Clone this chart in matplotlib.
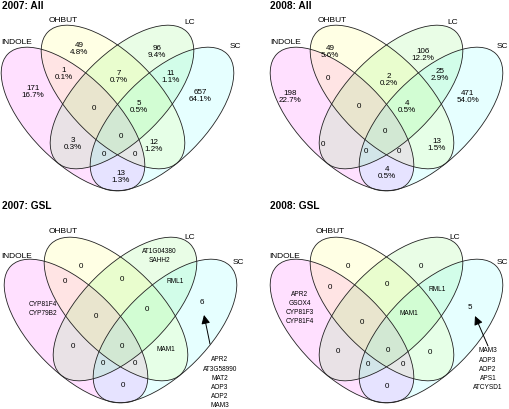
import matplotlib
matplotlib.use('Agg')
import matplotlib.pyplot as plt
from matplotlib.patches import Ellipse

plt.rcParams['font.family'] = ['Liberation Sans', 'DejaVu Sans']

# region order: I, O, L, S, IO, IL, IS, OL, OS, LS, IOL, IOS, ILS, OLS, IOLS
regions = ['I', 'O', 'L', 'S', 'IO', 'IL', 'IS', 'OL', 'OS', 'LS',
           'IOL', 'IOS', 'ILS', 'OLS', 'IOLS']
set_names = ['INDOLE', 'OHBUT', 'LC', 'SC']
titles = ['2007: All', '2008: All', '2007: GSL', '2008: GSL']

counts_2007_all = [171, 49, 96, 657, 1, 3, 13, 7, 12, 11, 0, 0, 0, 5, 0]
pct_2007_all = ['16.7%', '4.8%', '9.4%', '64.1%', '0.1%', '0.3%', '1.3%', '0.7%',
                '1.2%', '1.1%', '', '', '', '0.5%', '']
counts_2008_all = [198, 49, 106, 471, 0, 0, 4, 2, 13, 25, 0, 0, 0, 4, 0]
pct_2008_all = ['22.7%', '5.6%', '12.2%', '54.0%', '', '', '0.5%', '0.2%',
                '1.5%', '2.9%', '', '', '', '0.5%', '']

genes_2007_gsl = ['CYP81F4\nCYP79B2', '0', 'AT1G04380\nSAHH2', '6', '0', '0', '0', '0',
                  'MAM1', 'RML1', '0', '0', '0', '0', '0']
genes_2008_gsl = ['APR2\nGSOX4\nCYP81F3\nCYP81F4', '0', '0', '5', '0', '0', '0', '0',
                  '0', 'RML1', '0', '0', '0', 'MAM1', '0']
callout_2007 = ['APR2', 'AT3G58990', 'MAT2', 'AOP3', 'AOP2', 'MAM3']
callout_2008 = ['MAM3', 'AOP3', 'AOP2', 'APS1', 'ATCYSD1']

# ---- layout (pixels) ----
offsets = [(0, 0), (269, 0), (3, 212), (269, 212)]
ell_centers = [(73, 120), (113, 98), (122, 98), (162, 120)]
ell_angles = [45, 45, -45, -45]
ell_w, ell_h = 184, 86
fills = [(1, 0.2, 1, 0.15), (1, 1, 0.2, 0.13), (0.3, 0.95, 0.2, 0.12), (0.2, 1, 1, 0.12)]

title_pos = [(2, 6), (270, 6), (2, 206), (270, 206)]
name_pos = [
    [(17, 42), (63, 21), (190, 23), (235, 47)],
    [(286, 42), (332, 21), (453, 23), (502, 47)],
    [(17, 257), (63, 232), (190, 238), (238, 263)],
    [(285, 257), (330, 232), (455, 238), (502, 263)],
]
text_pos = [
    [(33, 92), (79, 49), (157, 52), (200, 96), (64, 74), (73, 144), (121, 177),
     (119, 77), (154, 146), (171, 77), (94, 108), (135, 155), (104, 155),
     (139, 107), (121, 137)],
    [(290, 97), (330, 52), (423, 55), (468, 97), (328, 78), (323, 145), (387, 173),
     (389, 80), (437, 145), (440, 75), (359, 107), (399, 152), (366, 152),
     (407, 107), (385, 132)],
    [(43, 309), (81, 267), (159, 256), (202, 303), (65, 282), (73, 347), (123, 386),
     (122, 280), (166, 350), (175, 282), (96, 317), (135, 364), (103, 364),
     (147, 310), (122, 347)],
    [(300, 308), (348, 267), (421, 267), (470, 308), (330, 288), (338, 352),
     (387, 387), (387, 285), (430, 353), (437, 290), (362, 323), (403, 365),
     (368, 365), (409, 314), (388, 351)],
]

fig = plt.figure(figsize=(5.1, 4.1), dpi=100)
ax = fig.add_axes([0, 0, 1, 1])
ax.set_xlim(0, 510)
ax.set_ylim(410, 0)
ax.axis('off')

for p, (ox, oy) in enumerate(offsets):
    for (cx, cy), ang, fc in zip(ell_centers, ell_angles, fills):
        ax.add_patch(Ellipse((cx + ox, cy + oy), ell_w, ell_h, angle=ang,
                             fc=fc, ec='none'))
    for (cx, cy), ang in zip(ell_centers, ell_angles):
        ax.add_patch(Ellipse((cx + ox, cy + oy), ell_w, ell_h, angle=ang,
                             fill=False, ec='#222222', lw=0.6))
    tx, ty = title_pos[p]
    ax.text(tx, ty, titles[p], fontsize=7.3, fontweight='bold', ha='left', va='center')
    for name, (nx, ny) in zip(set_names, name_pos[p]):
        ax.text(nx, ny, name, fontsize=6, ha='center', va='center')

# count panels
for p, (cnts, pcts) in enumerate([(counts_2007_all, pct_2007_all),
                                  (counts_2008_all, pct_2008_all)]):
    for c, pc, (x, y) in zip(cnts, pcts, text_pos[p]):
        s = str(c) if pc == '' else f'{c}\n{pc}'
        ax.text(x, y, s, fontsize=5.8, ha='center', va='center', linespacing=1.15)

# gene panels
for p, genes in zip([2, 3], [genes_2007_gsl, genes_2008_gsl]):
    for g, (x, y) in zip(genes, text_pos[p]):
        fs = 5.8 if g.isdigit() else 4.7
        ax.text(x, y, g, fontsize=fs, ha='center', va='center', linespacing=1.45)

# callouts
for lst, top, cx, tail, head in [(callout_2007, 360, 220, (210, 345), (204, 316)),
                                 (callout_2008, 351, 488, (488, 347), (475, 317))]:
    for i, g in enumerate(lst):
        ax.text(cx, top + i * 9.2, g, fontsize=4.7, ha='center', va='center')
    ax.annotate('', xy=head, xytext=tail,
                arrowprops=dict(arrowstyle='-|>', color='black', lw=0.7,
                                mutation_scale=13, shrinkA=0, shrinkB=0))

fig.savefig('out.png', dpi=100)
